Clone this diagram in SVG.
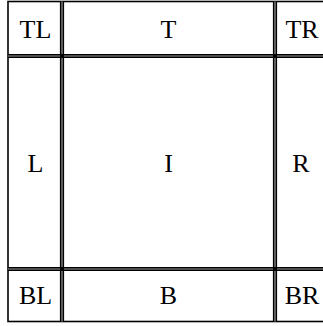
<svg xmlns="http://www.w3.org/2000/svg" width="323" height="326" viewBox="0 0 323 326">
<style>
.outer{fill:none;stroke:#000;stroke-width:1.6}
.dbl{stroke:#000;stroke-width:4.2;fill:none}
.gap{stroke:#9a9a9a;stroke-width:1.2;fill:none}
text{font-family:"Liberation Serif","DejaVu Serif",serif;font-size:26px;fill:#000;text-anchor:middle}
</style>
<rect width="323" height="326" fill="#fff"/>
<g id="connectors">
<rect class="outer" x="8" y="1.5" width="321" height="320"/>
<line class="dbl" x1="62" y1="1.5" x2="62" y2="321.5"/>
<line class="dbl" x1="275" y1="1.5" x2="275" y2="321.5"/>
<line class="dbl" x1="8" y1="56" x2="329" y2="56"/>
<line class="dbl" x1="8" y1="269" x2="329" y2="269"/>
<line class="gap" x1="62" y1="1.5" x2="62" y2="321.5"/>
<line class="gap" x1="275" y1="1.5" x2="275" y2="321.5"/>
<line class="gap" x1="8" y1="56" x2="329" y2="56"/>
<line class="gap" x1="8" y1="269" x2="329" y2="269"/>
<rect x="60" y="54" width="4" height="4" fill="#000"/>
<rect x="273" y="54" width="4" height="4" fill="#000"/>
<rect x="60" y="267" width="4" height="4" fill="#000"/>
<rect x="273" y="267" width="4" height="4" fill="#000"/>
</g>
<g id="TL"><text x="35.5" y="38">TL</text></g>
<g id="T"><text x="168.5" y="38">T</text></g>
<g id="TR"><text x="302" y="38">TR</text></g>
<g id="L"><text x="35.5" y="172">L</text></g>
<g id="I"><text x="168.5" y="172">I</text></g>
<g id="R"><text x="301" y="172">R</text></g>
<g id="BL"><text x="35.5" y="304">BL</text></g>
<g id="B"><text x="168.5" y="304">B</text></g>
<g id="BR"><text x="302" y="304">BR</text></g>
</svg>
